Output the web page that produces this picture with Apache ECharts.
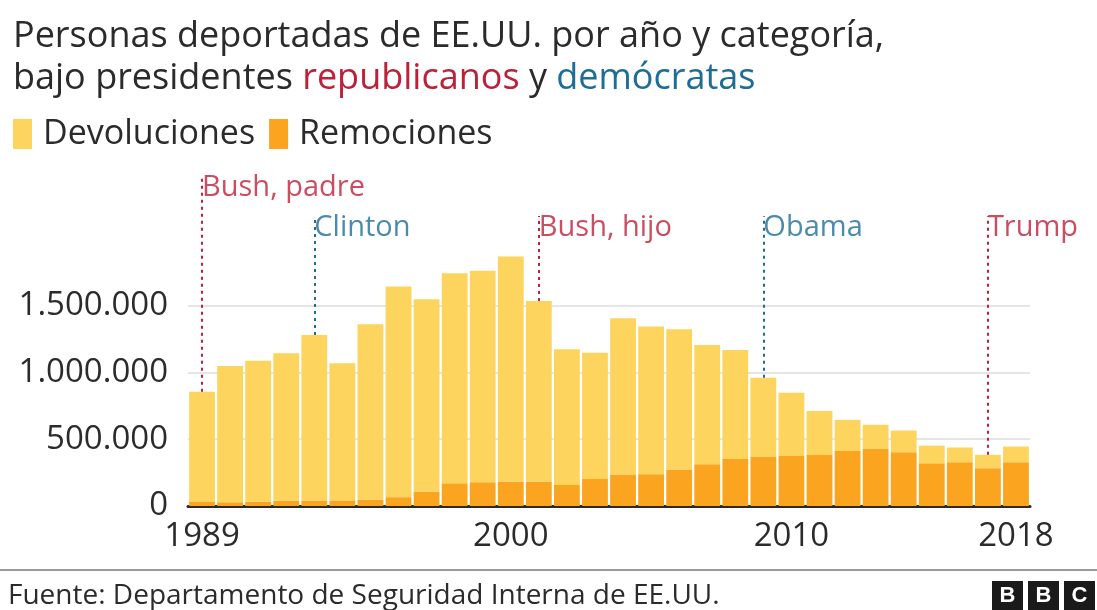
<!DOCTYPE html>
<html>
<head>
<meta charset="utf-8">
<title>Personas deportadas de EE.UU.</title>
<script src="https://cdn.jsdelivr.net/npm/echarts@6/dist/echarts.min.js"></script>
<style>
	html, body { margin: 0; padding: 0; background: #fff; }
	#chart { width: 1097px; height: 610px; }
</style>
</head>
<body>
<div id="chart"></div>
<script>
	//años
	var years = ["1989", "1990", "1991", "1992", "1993", "1994", "1995", "1996", "1997", "1998",
		"1999", "2000", "2001", "2002", "2003", "2004", "2005", "2006", "2007", "2008",
		"2009", "2010", "2011", "2012", "2013", "2014", "2015", "2016", "2017", "2018"];
	//remociones (personas)
	var remociones = [30000, 28000, 32000, 40000, 40000, 42000, 48000, 66000, 108000, 170000,
		178000, 182000, 183000, 158000, 203000, 236000, 238000, 274000, 312000, 352000,
		370000, 375000, 381000, 412000, 428000, 403000, 320000, 328000, 283000, 328000];
	//devoluciones (personas)
	var devoluciones = [825000, 1020000, 1056000, 1103000, 1240000, 1026000, 1312000, 1577000, 1440000, 1573000,
		1582000, 1686000, 1352000, 1015000, 945000, 1169000, 1105000, 1049000, 893000, 816000,
		590000, 473000, 331000, 233000, 180000, 162000, 132000, 110000, 100000, 117000];
	//presidentes
	var presidentYears = ["1989", "1993", "2001", "2009", "2017"];
	var presidentNames = ["Bush, padre", "Clinton", "Bush, hijo", "Obama", "Trump"];
	var presidentParty = ["r", "d", "r", "d", "r"];
	var presidentLabelY = [2380000, 2080000, 2080000, 2080000, 2080000];
	var presidentLineTop = [2470000, 2170000, 2170000, 2170000, 2170000];
	//刻度
	var yTicks = [0, 500000, 1000000, 1500000];
	var xLabels = ["1989", "2000", "2010", "2018"];

	var RED = "#bd2139";
	var BLUE = "#1d6d99";
	var FONT = "Open Sans";

	var chart = echarts.init(document.getElementById("chart"), null, { renderer: "canvas" });

	//竖线
	var markLines = [];
	var labelPoints = [];
	for (var i = 0; i < presidentYears.length; i++) {
		var idx = years.indexOf(presidentYears[i]);
		var total = remociones[idx] + devoluciones[idx];
		var color = presidentParty[i] == "r" ? RED : BLUE;
		markLines.push([
			{ coord: [presidentYears[i], total], lineStyle: { color: color } },
			{ coord: [presidentYears[i], presidentLineTop[i]] }
		]);
		labelPoints.push({
			value: [presidentYears[i], presidentLabelY[i]],
			label: { color: color }
		});
	}

	function fmt(v) {
		return String(v).replace(/\B(?=(\d{3})+(?!\d))/g, ".");
	}

	var option = {
		animation: false,
		backgroundColor: "#fff",
		textStyle: { fontFamily: FONT },
		title: [{
			left: 8,
			top: 11,
			text: "Personas deportadas de EE.UU. por año y categoría,\nbajo presidentes {r|republicanos} y {d|demócratas}",
			textStyle: {
				fontFamily: FONT,
				fontSize: 36,
				fontWeight: "normal",
				color: "#2b2b2b",
				lineHeight: 42,
				rich: {
					r: { fontFamily: FONT, fontSize: 36, color: RED, lineHeight: 42 },
					d: { fontFamily: FONT, fontSize: 36, color: BLUE, lineHeight: 42 }
				}
			}
		}, {
			left: 3,
			top: 577,
			text: "Fuente: Departamento de Seguridad Interna de EE.UU.",
			textStyle: { fontFamily: FONT, fontSize: 28, fontWeight: "normal", color: "#2b2b2b" }
		}],
		legend: {
			left: 8,
			top: 112,
			itemWidth: 19,
			itemHeight: 30,
			itemGap: 14,
			icon: "rect",
			data: ["Devoluciones", "Remociones"],
			textStyle: { fontFamily: FONT, fontSize: 34, color: "#2b2b2b", padding: [0, 0, 0, 6] }
		},
		grid: { left: 188, right: 67, top: 172, bottom: 104 },
		xAxis: {
			type: "category",
			data: years,
			axisLine: { lineStyle: { color: "#2a2a2a", width: 3 } },
			axisTick: {
				alignWithLabel: true,
				length: 9,
				lineStyle: { color: "#555", width: 2 },
				interval: function (i, v) { return xLabels.indexOf(v) >= 0; }
			},
			axisLabel: {
				interval: function (i, v) { return xLabels.indexOf(v) >= 0; },
				fontFamily: FONT,
				fontSize: 33,
				color: "#2b2b2b",
				margin: 14
			}
		},
		yAxis: {
			type: "value",
			min: 0,
			max: 2500000,
			interval: 500000,
			axisLine: { show: false },
			axisTick: { show: false },
			splitLine: {
				lineStyle: { color: ["#dcdcdc", "#dcdcdc", "#dcdcdc", "#dcdcdc", "rgba(0,0,0,0)", "rgba(0,0,0,0)"], width: 1.5 }
			},
			axisLabel: {
				fontFamily: FONT,
				fontSize: 33,
				color: "#2b2b2b",
				margin: 20,
				formatter: function (v) { return yTicks.indexOf(v) >= 0 ? fmt(v) : ""; }
			}
		},
		series: [{
			name: "Remociones",
			type: "bar",
			stack: "total",
			barCategoryGap: "8%",
			itemStyle: { color: "#fba41f" },
			data: remociones
		}, {
			name: "Devoluciones",
			type: "bar",
			stack: "total",
			barCategoryGap: "8%",
			itemStyle: { color: "#fdd45e" },
			data: devoluciones,
			markLine: {
				silent: true,
				symbol: "none",
				label: { show: false },
				lineStyle: { type: [3, 4], width: 2 },
				data: markLines
			}
		}, {
			name: "presidentes",
			type: "scatter",
			symbolSize: 0,
			silent: true,
			label: {
				show: true,
				position: "right",
				distance: 0,
				fontFamily: FONT,
				fontSize: 29,
				formatter: function (p) { return presidentNames[p.dataIndex]; }
			},
			data: labelPoints
		}],
		graphic: [{
			type: "line",
			shape: { x1: 0, y1: 570, x2: 1097, y2: 570 },
			style: { stroke: "#9a9a9a", lineWidth: 2 }
		}, {
			type: "group",
			left: 992,
			top: 581,
			children: ["B", "B", "C"].map(function (ch, k) {
				return {
					type: "group",
					x: k * 36,
					children: [{
						type: "rect",
						shape: { x: 0, y: 0, width: 31, height: 29 },
						style: { fill: "#1a1a1a" }
					}, {
						type: "text",
						style: {
							x: 15.5, y: 15, text: ch, fill: "#fff",
							font: "bold 22px Arial", align: "center", verticalAlign: "middle"
						}
					}]
				};
			})
		}]
	};
	chart.setOption(option);
</script>
</body>
</html>
